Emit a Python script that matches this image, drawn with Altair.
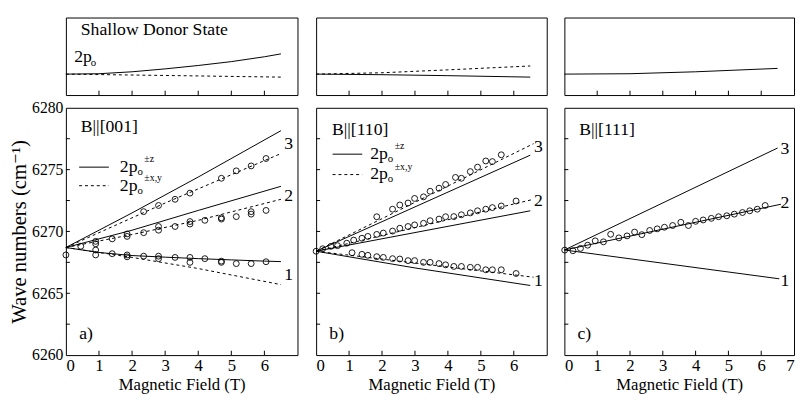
import altair as alt
import pandas as pd

FONT = "'Liberation Serif', 'DejaVu Serif', serif"

X_TICKS = [1, 2, 3, 4, 5, 6]
Y_TICKS = [6262.5, 6265, 6267.5, 6270, 6272.5, 6275, 6277.5]
Y_LABELS = [6260, 6265, 6270, 6275, 6280]

# ---------------- top panels (relative energy, arbitrary units) ----------------
TA_S_B = [0, 1, 2, 3, 4, 5, 6, 6.5]
TA_S_V = [2.16, 2.2, 2.4, 2.7, 3.05, 3.45, 3.95, 4.25]
TA_D_B = [0, 3, 6.5]
TA_D_V = [2.16, 2.02, 1.85]
TB_S_B = [0, 2, 4, 6.5]
TB_S_V = [2.16, 2.1, 2.0, 1.85]
TB_D_B = [0, 2, 4, 6.5]
TB_D_V = [2.16, 2.3, 2.6, 3.0]
TC_S_B = [0, 2, 4, 6.5]
TC_S_V = [2.16, 2.2, 2.4, 2.75]

# ---------------- panel a) B||[001] ----------------
A_Z3_B = [0, 2, 4, 6.5]
A_Z3_V = [6268.7, 6271.5, 6274.4, 6278.15]
A_Z2_B = [0, 2, 4, 6.5]
A_Z2_V = [6268.7, 6270.1, 6271.7, 6273.65]
A_Z1_B = [0, 1, 2, 3, 4, 5, 6, 6.5]
A_Z1_V = [6268.7, 6268.3, 6268.05, 6267.92, 6267.8, 6267.7, 6267.6, 6267.56]
A_XY3_B = [0, 3, 6.5]
A_XY3_V = [6268.7, 6272.3, 6276.3]
A_XY2_B = [0, 2, 4, 6.5]
A_XY2_V = [6268.7, 6269.75, 6270.9, 6272.6]
A_XY1_B = [0, 2, 4, 6.5]
A_XY1_V = [6268.7, 6267.9, 6267.0, 6265.7]
A_PTS_B = [0, 0.9, 0.9, 1.4, 1.85, 1.85, 2.35, 2.8, 2.8, 3.3, 3.75, 3.75, 4.2, 4.7, 4.7, 5.15, 5.6, 6.05,
           0.45, 0.9, 0.9, 1.4, 1.85, 1.85, 2.35, 2.8, 2.8, 3.3, 3.75, 3.75, 4.2, 4.7, 4.7, 5.15, 5.6, 5.6, 6.05,
           2.35, 2.8, 3.3, 3.75, 4.7, 5.15, 5.6, 6.05]
A_PTS_V = [6268.1, 6268.5, 6268.1, 6268.2, 6268.1, 6267.95, 6268.0, 6268.0, 6267.8, 6267.9, 6267.9, 6267.5,
           6267.8, 6267.6, 6267.5, 6267.4, 6267.4, 6267.55,
           6268.8, 6269.2, 6269.0, 6269.4, 6269.6, 6269.8, 6269.9, 6270.1, 6270.4, 6270.4, 6270.6, 6270.8,
           6270.9, 6271.0, 6271.1, 6271.2, 6271.4, 6271.6, 6271.7,
           6271.6, 6272.1, 6272.6, 6273.1, 6274.3, 6274.9, 6275.3, 6275.9]

# ---------------- panel b) B||[110] ----------------
B_Z3_B = [0, 6.5]
B_Z3_V = [6268.4, 6276.17]
B_Z2_B = [0, 6.5]
B_Z2_V = [6268.4, 6271.67]
B_Z1_B = [0, 3, 6.5]
B_Z1_V = [6268.4, 6267.05, 6265.63]
B_XY3_B = [0, 6.6]
B_XY3_V = [6268.4, 6277.1]
B_XY2_B = [0, 6.6]
B_XY2_V = [6268.4, 6272.6]
B_XY1_B = [0, 6.6]
B_XY1_V = [6268.4, 6266.3]
B_PTS_B = [0, 0.2, 0.45, 0.65, 0.93, 1.14, 1.39, 1.57, 1.84, 2.04, 2.32, 2.54, 2.79, 2.99, 3.26, 3.46, 3.73,
           3.93, 4.18, 4.41, 4.68, 4.9, 5.15, 5.35, 5.62, 6.07,
           1.84, 2.32, 2.54, 2.79, 2.99, 3.26, 3.46, 3.73, 3.93, 4.23, 4.41, 4.68, 4.9, 5.15, 5.35, 5.62,
           1.09, 1.39, 1.57, 1.84, 2.04, 2.32, 2.54, 2.79, 2.99, 3.26, 3.46, 3.73, 3.93, 4.18, 4.41, 4.68,
           4.9, 5.15, 5.35, 5.62, 6.07]
B_PTS_V = [6268.4, 6268.6, 6268.8, 6268.85, 6269.05, 6269.3, 6269.45, 6269.6, 6269.76, 6269.87, 6270.03,
           6270.26, 6270.4, 6270.53, 6270.66, 6270.87, 6271.0, 6271.19, 6271.2, 6271.35, 6271.5, 6271.67,
           6271.8, 6271.93, 6272.06, 6272.46,
           6271.19, 6271.8, 6272.14, 6272.3, 6272.67, 6272.8, 6273.25, 6273.5, 6273.8, 6274.37, 6274.3,
           6274.84, 6275.2, 6275.7, 6275.65, 6276.2,
           6268.28, 6268.15, 6268.07, 6267.96, 6267.9, 6267.8, 6267.77, 6267.64, 6267.64, 6267.5, 6267.5,
           6267.4, 6267.3, 6267.17, 6267.17, 6267.1, 6267.1, 6266.9, 6266.9, 6266.9, 6266.6]

# ---------------- panel c) B||[111] ----------------
C_L3_B = [0, 6.5]
C_L3_V = [6268.5, 6276.75]
C_L2_B = [0, 6.6]
C_L2_V = [6268.5, 6272.2]
C_L1_B = [0, 6.55]
C_L1_V = [6268.5, 6266.17]
C_PTS_B = [0.01, 0.26, 0.49, 0.71, 0.94, 1.19, 1.41, 1.66, 1.91, 2.14, 2.36, 2.6, 2.83, 3.05, 3.3, 3.55,
           3.78, 4.0, 4.23, 4.48, 4.7, 4.95, 5.18, 5.43, 5.65, 5.88, 6.12]
C_PTS_V = [6268.49, 6268.44, 6268.63, 6268.89, 6269.24, 6269.16, 6269.77, 6269.48, 6269.64, 6269.95,
           6269.74, 6270.08, 6270.21, 6270.34, 6270.48, 6270.74, 6270.48, 6270.82, 6270.93, 6271.06,
           6271.19, 6271.27, 6271.4, 6271.53, 6271.67, 6271.8, 6272.1]

W_A, W_B, W_C = 236, 235, 234
H_TOP, H_MAIN = 79, 252


def lines_df(pairs):
    rows = []
    for gi, (bs, vs) in enumerate(pairs):
        for b, v in zip(bs, vs):
            rows.append({"B": b, "V": v, "g": gi})
    return pd.DataFrame(rows)


def enc(axx, axy, ydom):
    return dict(
        x=alt.X("B:Q", scale=alt.Scale(domain=[0, 7], nice=False, zero=False), axis=axx),
        y=alt.Y("V:Q", scale=alt.Scale(domain=ydom, nice=False, zero=False), axis=axy),
    )


def text_layer(rows, size, axx, axy, ydom, align="left", dx=0, dy=0):
    df = pd.DataFrame(rows, columns=["B", "V", "t"])
    return alt.Chart(df).mark_text(font=FONT, fontSize=size, align=align, baseline="middle",
                                   dx=dx, dy=dy, color="black").encode(
        text="t:N", **enc(axx, axy, ydom))


def legend_label(b, v, sup, axx, axy, ydom):
    return [
        text_layer([(b, v, "2p")], 18, axx, axy, ydom),
        text_layer([(b, v, "o")], 11, axx, axy, ydom, dx=18, dy=5),
        text_layer([(b, v, sup)], 10, axx, axy, ydom, dx=25, dy=-8),
    ]


def make_top(solid, dashed, width, extra):
    ydom = [0, 8]
    axx, axy = None, None
    layers = []
    layers.append(alt.Chart(lines_df(solid)).mark_line(color="black", strokeWidth=1).encode(
        detail="g:N", **enc(axx, axy, ydom)))
    if dashed:
        layers.append(alt.Chart(lines_df(dashed)).mark_line(color="black", strokeWidth=1,
                                                            strokeDash=[3, 3]).encode(
            detail="g:N", **enc(axx, axy, ydom)))
    tk = pd.DataFrame({"B": X_TICKS, "V": [0] * 6, "V2": [0.45] * 6})
    layers.append(alt.Chart(tk).mark_rule(color="black", strokeWidth=1).encode(
        y2="V2:Q", **enc(axx, axy, ydom)))
    layers += extra(axx, axy, ydom)
    return alt.layer(*layers).properties(width=width, height=H_TOP)


def make_main(solid, dashed, pts, width, axx, axy, extra):
    ydom = [6260, 6280]
    layers = []
    layers.append(alt.Chart(lines_df(solid)).mark_line(color="black", strokeWidth=1).encode(
        detail="g:N", **enc(axx, axy, ydom)))
    if dashed:
        layers.append(alt.Chart(lines_df(dashed)).mark_line(color="black", strokeWidth=1,
                                                            strokeDash=[3, 3]).encode(
            detail="g:N", **enc(axx, axy, ydom)))
    p = pd.DataFrame({"B": pts[0], "V": pts[1]})
    layers.append(alt.Chart(p).mark_point(shape="circle", size=36, filled=False, color="black",
                                          strokeWidth=0.9, opacity=1).encode(**enc(axx, axy, ydom)))
    tkx = pd.DataFrame({"B": X_TICKS, "V": [6260] * 6, "V2": [6260.35] * 6})
    layers.append(alt.Chart(tkx).mark_rule(color="black", strokeWidth=1).encode(
        y2="V2:Q", **enc(axx, axy, ydom)))
    tky = pd.DataFrame({"B": [0] * 7, "B2": [0.12] * 7, "V": Y_TICKS})
    layers.append(alt.Chart(tky).mark_rule(color="black", strokeWidth=1).encode(
        x2="B2:Q", **enc(axx, axy, ydom)))
    layers += extra(axx, axy, ydom)
    return alt.layer(*layers).properties(width=width, height=H_MAIN)


def xaxis(values):
    return alt.Axis(values=values, tickSize=0, domain=False, grid=False, labelFont=FONT,
                    labelFontSize=17, labelPadding=3, labelColor="black", title="Magnetic Field (T)",
                    titleFont=FONT, titleFontSize=17, titleFontWeight="normal", titlePadding=3,
                    titleColor="black", labelAngle=0)


YAXIS = alt.Axis(values=Y_LABELS, format="d", tickSize=0, domain=False, grid=False, labelFont=FONT,
                 labelFontSize=16, labelPadding=3, labelColor="black", title="Wave numbers (cm⁻¹)",
                 titleFont=FONT, titleFontSize=21, titleFontWeight="normal", titlePadding=2,
                 titleColor="black")


def top_a_extra(axx, axy, ydom):
    return [text_layer([(0.45, 6.75, "Shallow Donor State")], 18, axx, axy, ydom),
            text_layer([(0.25, 3.95, "2p")], 18, axx, axy, ydom),
            text_layer([(0.25, 3.95, "o")], 11, axx, axy, ydom, dx=17, dy=6)]


def none_extra(axx, axy, ydom):
    return []


def legend_lines(b0, b1, v_s, v_d, axx, axy, ydom):
    s = pd.DataFrame({"B": [b0, b1], "V": [v_s, v_s]})
    d = pd.DataFrame({"B": [b0, b1], "V": [v_d, v_d]})
    return [alt.Chart(s).mark_line(color="black", strokeWidth=1).encode(**enc(axx, axy, ydom)),
            alt.Chart(d).mark_line(color="black", strokeWidth=1, strokeDash=[3, 3]).encode(
                **enc(axx, axy, ydom))]


def main_a_extra(axx, axy, ydom):
    L = [text_layer([(0.45, 6278.4, "B||[001]")], 18, axx, axy, ydom),
         text_layer([(0.4, 6261.7, "a)")], 18, axx, axy, ydom),
         text_layer([(6.73, 6277.1, "3"), (6.73, 6272.85, "2"), (6.73, 6266.5, "1")], 18, axx, axy,
                    ydom, align="center")]
    L += legend_lines(0.4, 1.3, 6275.2, 6273.7, axx, axy, ydom)
    L += legend_label(1.63, 6275.2, "±z", axx, axy, ydom)
    L += legend_label(1.63, 6273.7, "±x,y", axx, axy, ydom)
    return L


def main_b_extra(axx, axy, ydom):
    L = [text_layer([(0.48, 6278.2, "B||[110]")], 18, axx, axy, ydom),
         text_layer([(0.4, 6261.7, "b)")], 18, axx, axy, ydom),
         text_layer([(6.75, 6276.8, "3"), (6.75, 6272.45, "2"), (6.75, 6265.95, "1")], 18, axx, axy,
                    ydom, align="center")]
    L += legend_lines(0.5, 1.4, 6276.25, 6274.6, axx, axy, ydom)
    L += legend_label(1.64, 6276.25, "±z", axx, axy, ydom)
    L += legend_label(1.64, 6274.6, "±x,y", axx, axy, ydom)
    return L


def main_c_extra(axx, axy, ydom):
    return [text_layer([(0.45, 6278.2, "B||[111]")], 18, axx, axy, ydom),
            text_layer([(0.4, 6261.7, "c)")], 18, axx, axy, ydom),
            text_layer([(6.72, 6276.7, "3"), (6.72, 6272.3, "2"), (6.72, 6266.0, "1")], 18, axx, axy,
                       ydom, align="center")]


top_a = make_top([(TA_S_B, TA_S_V)], [(TA_D_B, TA_D_V)], W_A, top_a_extra)
top_b = make_top([(TB_S_B, TB_S_V)], [(TB_D_B, TB_D_V)], W_B, none_extra)
top_c = make_top([(TC_S_B, TC_S_V)], None, W_C, none_extra)

main_a = make_main([(A_Z3_B, A_Z3_V), (A_Z2_B, A_Z2_V), (A_Z1_B, A_Z1_V)],
                   [(A_XY3_B, A_XY3_V), (A_XY2_B, A_XY2_V), (A_XY1_B, A_XY1_V)],
                   (A_PTS_B, A_PTS_V), W_A, xaxis([0, 1, 2, 3, 4, 5, 6]), YAXIS, main_a_extra)
main_b = make_main([(B_Z3_B, B_Z3_V), (B_Z2_B, B_Z2_V), (B_Z1_B, B_Z1_V)],
                   [(B_XY3_B, B_XY3_V), (B_XY2_B, B_XY2_V), (B_XY1_B, B_XY1_V)],
                   (B_PTS_B, B_PTS_V), W_B, xaxis([0, 1, 2, 3, 4, 5, 6]), None, main_b_extra)
main_c = make_main([(C_L3_B, C_L3_V), (C_L2_B, C_L2_V), (C_L1_B, C_L1_V)], None,
                   (C_PTS_B, C_PTS_V), W_C, xaxis([0, 1, 2, 3, 4, 5, 6, 7]), None, main_c_extra)

col_a = alt.vconcat(top_a, main_a, spacing=13, bounds="flush")
col_b = alt.vconcat(top_b, main_b, spacing=13, bounds="flush")
col_c = alt.vconcat(top_c, main_c, spacing=13, bounds="flush")

chart = alt.hconcat(col_a, col_b, col_c, spacing=12).properties(
    padding={"left": 0, "top": 5, "right": 0, "bottom": 0},
    background="white",
).configure_view(stroke="black", strokeWidth=1)

chart.save("out.html", embed_options={"renderer": "svg", "actions": False})
